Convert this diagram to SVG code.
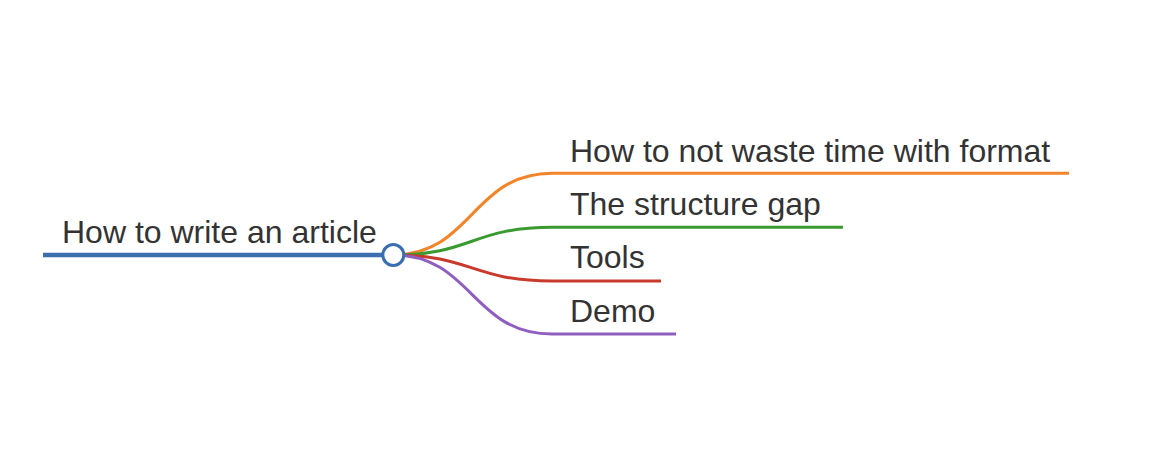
<svg xmlns="http://www.w3.org/2000/svg" width="1162" height="467" viewBox="0 0 1162 467">
<style>
text{font-family:"Liberation Sans",Arial,Helvetica,sans-serif;font-size:32px;fill:#333}
.lk{fill:none;stroke-width:3}
.ln{stroke-width:3;stroke-linecap:butt}
</style>
<rect width="1162" height="467" fill="#fff"/>
<g id="connectors">
<path class="lk" stroke="#f2842a" d="M393,255 C472,255 472,173.3 552,173.3"/>
<path class="lk" stroke="#3a9a30" d="M393,255 C472,255 472,227.3 552,227.3"/>
<path class="lk" stroke="#c93a2d" d="M393,255 C472,255 472,281 552,281"/>
<path class="lk" stroke="#8f5fbf" d="M393,255 C472,255 472,334 552,334"/>
</g>
<g id="n-root">
<line x1="43" y1="255" x2="393" y2="255" stroke="#3a6eaf" stroke-width="4.5"/>
<text x="62" y="243">How to write an article</text>
<circle cx="393.3" cy="255" r="10.5" fill="#fff" stroke="#3a6eaf" stroke-width="3"/>
</g>
<g id="n-format">
<line class="ln" x1="552" y1="173.3" x2="1069" y2="173.3" stroke="#f2842a"/>
<text x="570" y="161.5">How to not waste time with format</text>
</g>
<g id="n-structure">
<line class="ln" x1="552" y1="227.3" x2="843" y2="227.3" stroke="#3a9a30"/>
<text x="570" y="215">The structure gap</text>
</g>
<g id="n-tools">
<line class="ln" x1="552" y1="281" x2="661" y2="281" stroke="#c93a2d"/>
<text x="570" y="268">Tools</text>
</g>
<g id="n-demo">
<line class="ln" x1="552" y1="334" x2="676" y2="334" stroke="#8f5fbf"/>
<text x="570" y="322">Demo</text>
</g>
</svg>
